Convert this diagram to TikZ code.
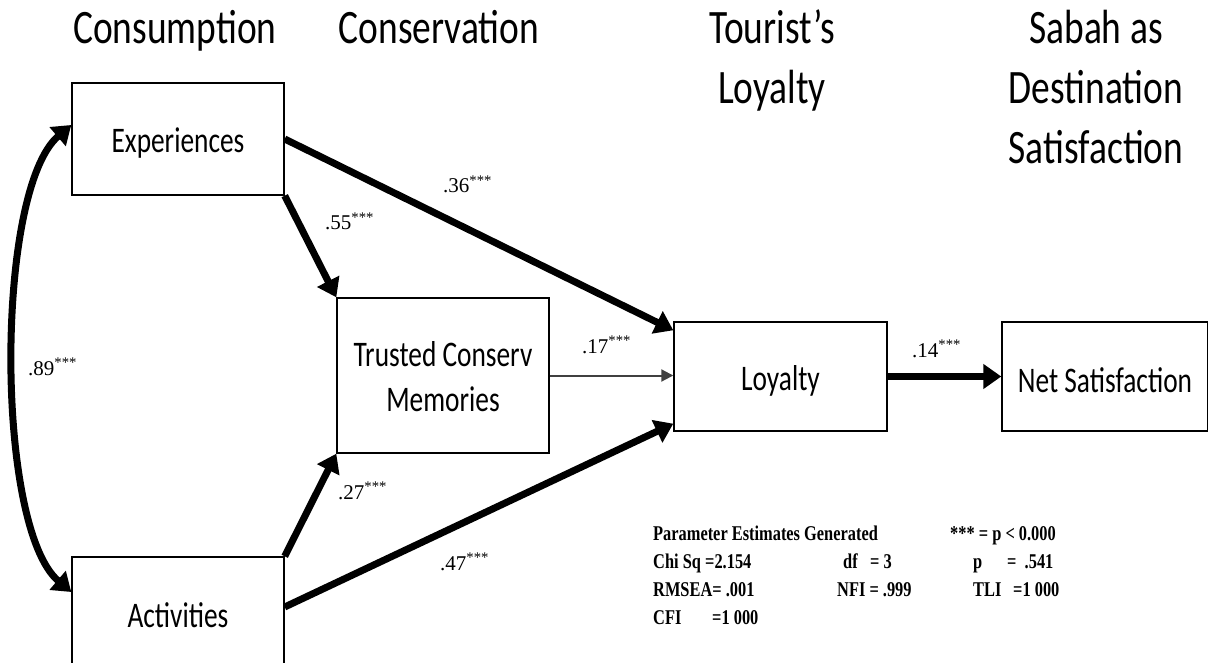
\documentclass[tikz,border=0pt]{standalone}
\usepackage{fontspec}
\setmainfont{Liberation Serif}
\newfontfamily\calibri{Carlito}
\usetikzlibrary{arrows.meta,calc}
\newcommand{\narrow}[2]{\scalebox{#1}[1]{#2}}
% draw the contents 4pt lower while keeping the reported height and depth
\newcommand{\lowered}[1]{\raisebox{-4pt}[\height][\depth]{#1}}

\begin{document}
\begin{tikzpicture}[x=1pt,y=-1pt,
  box/.style={draw, line width=1.4pt, inner sep=0pt, align=center,
    font=\calibri\fontsize{36}{45}\selectfont},
  heading/.style={anchor=base, inner sep=0pt,
    font=\calibri\fontsize{48}{60}\selectfont},
  coef/.style={anchor=base west, inner sep=0pt, font=\fontsize{21}{24}\selectfont},
  stat/.style={anchor=base west, inner sep=0pt, font=\bfseries\fontsize{21}{25}\selectfont},
  heavy/.style={line width=7pt, -{Triangle[length=18pt,width=24pt]}},
  light/.style={line width=2pt, draw=black!75, -{Triangle[length=12pt,width=12pt]}}]

\useasboundingbox (0,0) rectangle (1208,663);
\clip (0,0) rectangle (1208,663);

% column headings
\node[heading] (hcons) at (175,44) {\narrow{0.78}{Consumption}};
\node[heading] (hconv) at (439,44) {\narrow{0.78}{Conservation}};
\node[heading] (hloy) at (772,44)
  {\narrow{0.78}{\begin{tabular}[t]{@{}c@{}}Tourist’s\\Loyalty\end{tabular}}};
\node[heading] (hsat) at (1096,44)
  {\narrow{0.78}{\begin{tabular}[t]{@{}c@{}}Sabah as\\Destination\\Satisfaction\end{tabular}}};

% constructs
\node[box, minimum width=212pt, minimum height=112pt] (exp) at (178,139)
  {\lowered{\narrow{0.76}{Experiences}}};
\node[box, minimum width=212pt, minimum height=155pt] (trust) at (443,375.5)
  {\lowered{\narrow{0.76}{\begin{tabular}{@{}c@{}}Trusted Conserv\\Memories\end{tabular}}}};
\node[box, minimum width=213pt, minimum height=109pt] (loy) at (780.5,376.5)
  {\lowered{\narrow{0.76}{Loyalty}}};
\node[box, minimum width=206pt, minimum height=109pt] (net) at (1105,376.5)
  {\lowered{\narrow{0.76}{Net Satisfaction}}};
\node[box, minimum width=212pt, minimum height=116pt] (act) at (178,615)
  {\narrow{0.76}{Activities}};

% paths
\draw[line width=7pt, {Triangle[length=18pt,width=24pt]}-{Triangle[length=18pt,width=24pt]}]
  ([yshift=14pt]exp.west) .. controls (-5,190) and (-5,527) .. ([yshift=23pt]act.west);
\draw[heavy] (exp.east) -- ([yshift=-9pt]loy.north west);
\draw[heavy] (exp.south east) -- (trust.north west);
\draw[heavy] (act.north east) -- (trust.south west);
\draw[heavy] ([yshift=8pt]act.east) -- ([yshift=8pt]loy.south west);
\draw[light] (trust.east) -- (trust.east -| loy.west);
\draw[heavy] (loy.east) -- (net.west);

% path coefficients
\node[coef] (c89) at (28,375) {.89\textsuperscript{***}};
\node[coef] (c36) at (443,193) {.36\textsuperscript{***}};
\node[coef] (c55) at (325,230) {.55\textsuperscript{***}};
\node[coef] (c17) at (582,353) {.17\textsuperscript{***}};
\node[coef] (c14) at (912,357) {.14\textsuperscript{***}};
\node[coef] (c27) at (338,499) {.27\textsuperscript{***}};
\node[coef] (c47) at (440,570) {.47\textsuperscript{***}};

% fit statistics
\node[stat] (s1a) at (653,540) {\narrow{0.78}{Parameter Estimates Generated}};
\node[stat] (s1b) at (950,540) {\narrow{0.78}{*** = p < 0.000}};
\node[stat] (s2a) at (653,568) {\narrow{0.78}{Chi Sq}};
\node[stat] (s2b) at (705,568) {\narrow{0.78}{=2.154}};
\node[stat] (s2c) at (843,568) {\narrow{0.78}{df}};
\node[stat] (s2d) at (870,568) {\narrow{0.78}{= 3}};
\node[stat] (s2e) at (973,568) {\narrow{0.78}{p}};
\node[stat] (s2f) at (1007,568) {\narrow{0.78}{=\ \ .541}};
\node[stat] (s3a) at (653,596) {\narrow{0.78}{RMSEA= .001}};
\node[stat] (s3b) at (837,596) {\narrow{0.78}{NFI = .999}};
\node[stat] (s3c) at (973,596) {\narrow{0.78}{TLI}};
\node[stat] (s3d) at (1013,596) {\narrow{0.78}{=1 000}};
\node[stat] (s4a) at (653,624) {\narrow{0.78}{CFI}};
\node[stat] (s4b) at (712,624) {\narrow{0.78}{=1 000}};
\end{tikzpicture}
\end{document}
